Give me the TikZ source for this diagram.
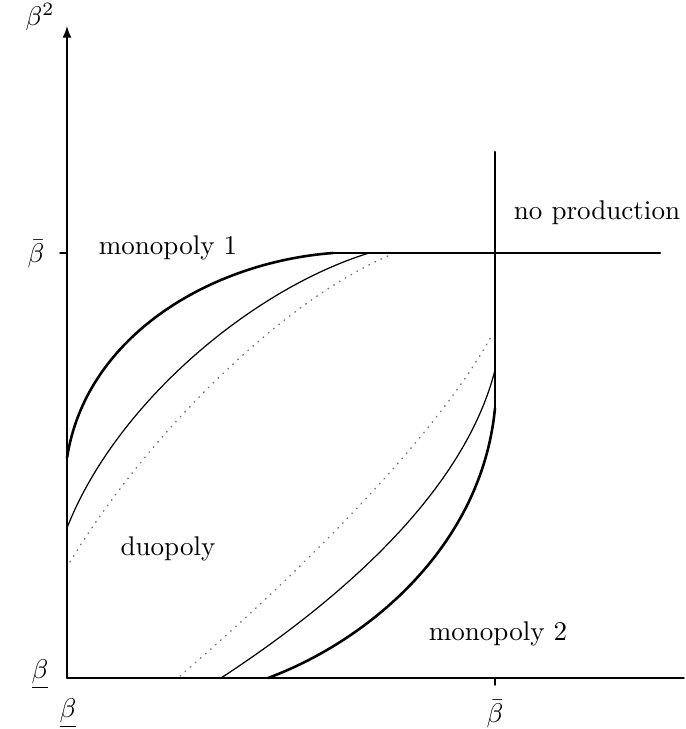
\documentclass[tikz,border=0pt]{standalone}
\usetikzlibrary{arrows.meta}
\begin{document}
\begin{tikzpicture}[x=0.13mm,y=-0.13mm,line width=.5pt,>=latex,
  line cap=round,line join=round,
  font=\fontsize{10}{12}\selectfont,
  every node/.style={inner sep=1pt},
  bound/.style={line width=.95pt},
  mid/.style={line width=.45pt},
  faint/.style={line width=.5pt,black!55,dash pattern=on .3pt off 2.2pt}]
\useasboundingbox (0,0) rectangle (685,729);
% axes
\coordinate (O) at (67,678);
\coordinate (Ytop) at (67,26);
\coordinate (Xend) at (684,678);
\draw[->] (O) -- (Ytop);
\draw (O) -- (Xend);
\draw (60,253) -- (67,253);
\draw (495,678) -- (495,685);
% boundaries
\coordinate (K) at (333,253);
\coordinate (C) at (495,253);
\draw[bound] (495,152) -- (495,408);
\draw[bound] (K) -- (660,253);
\draw[bound] (67,458) .. controls (86,335) and (212,262) .. (K);
\draw[bound] (268,678) .. controls (370,640) and (482,545) .. (495,408);
% thin curves
\draw[mid] (67,528) .. controls (115,405) and (250,290) .. (369,253);
\draw[mid] (221,678) .. controls (325,610) and (462,500) .. (495,370);
% dotted curves
\draw[faint] (70,562) .. controls (150,430) and (285,300) .. (388,256);
\draw[faint] (180,676) .. controls (280,590) and (432,445) .. (492,335);
% labels
\node (yl) at (40,17) {$\beta^2$};
\node (ybar) at (36,254) {$\bar\beta$};
\node (ylow) at (40,674) {$\underline{\beta}$};
\node (xlow) at (68,713) {$\underline{\beta}$};
\node (xbar) at (495,714) {$\bar\beta$};
\node (m1) at (168,248) {monopoly 1};
\node (np) at (597,213) {no production};
\node (du) at (168,549) {duopoly};
\node (m2) at (498,634) {monopoly 2};
\end{tikzpicture}
\end{document}
